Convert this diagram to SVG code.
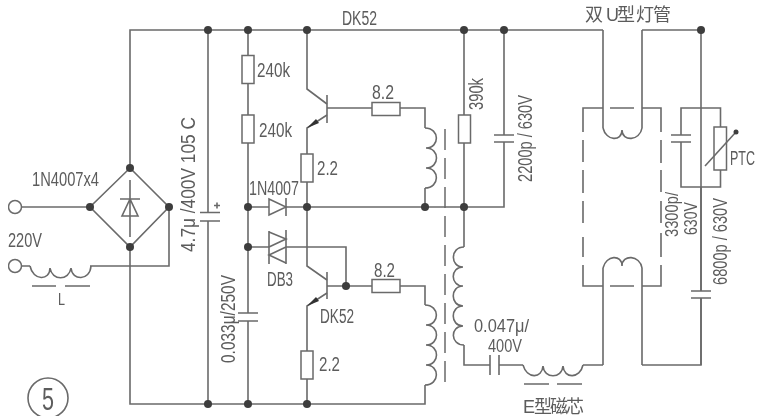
<svg xmlns="http://www.w3.org/2000/svg" width="769" height="416" viewBox="0 0 769 416">
<defs>
<style>
.w{fill:none;stroke:#6a6a6a;stroke-width:1.6}
.b{fill:#fff;stroke:#6a6a6a;stroke-width:1.5}
.d{fill:none;stroke:#6a6a6a;stroke-width:1.5;stroke-dasharray:21 8}
.j{fill:#3c3c3c}
text{font-family:"Liberation Sans","Noto Sans CJK SC",sans-serif;font-size:19.5px;fill:#5c5c5c}
.cjk{font-size:18px}
.sm{font-size:17.5px}
</style>
<filter id="soft" x="0" y="0" width="100%" height="100%"><feGaussianBlur stdDeviation="0.45"/></filter>
<g id="res"><rect class="b" x="-6" y="-14" width="12" height="28"/></g>
<g id="resh"><rect class="b" x="-14" y="-6.5" width="28" height="13"/></g>
</defs>
<rect width="769" height="416" fill="#fff"/>
<g filter="url(#soft)">
<g id="connectors">
<path class="w" d="M130 168V30H603"/>
<path class="w" d="M642 30H701"/>
<path class="w" d="M130 247V404H425V385"/>
<path class="w" d="M21 207H90"/>
<path class="w" d="M21 266H30M90 266H169V207"/>
<path class="w" d="M208 30V404"/>
<path class="w" d="M248 30V404"/>
<path class="w" d="M248 207H504V30"/>
<path class="w" d="M307 30V89L327 104"/>
<path class="w" d="M327 115L307 128V207"/>
<path class="w" d="M327 108H425V128M425 188V207"/>
<path class="w" d="M307 207V266L327 280"/>
<path class="w" d="M327 293L307 306V404"/>
<path class="w" d="M248 247H346V286"/>
<path class="w" d="M327 286H425V305"/>
<path class="w" d="M464 30V247M464 345V365H490M499 365H523M583 365H603"/>
<path class="w" d="M603 30V128M642 30V128"/>
<path class="w" d="M603 365V268M642 365V268"/>
<path class="w" d="M642 365H701V108"/>
</g>
<g id="bridge">
<path class="w" d="M130 168L169 207L130 247L90 207Z"/>
<path class="w" d="M130 180V237M120 199H140M130 199L122 216H138Z"/>
</g>
<g id="terminals">
<circle class="b" cx="15" cy="207" r="6.5"/>
<circle class="b" cx="15" cy="266" r="6.5"/>
</g>
<g id="L">
<path class="w" d="M30 266C33 281 50 281 50 268C52 281 69 281 71 268C72 281 90 281 91 266"/>
<path class="w" d="M32 286H56M65 286H90"/>
</g>
<g id="C1">
<path fill="#fff" d="M200 213h20v8h-20z"/>
<path class="w" d="M200 212.500H220M200 221H220"/>
<path class="w" d="M214 205.500H220M217 202.500V208.500"/>
</g>
<g id="R240k1"><use href="#res" x="248" y="69.500"/></g>
<g id="R240k2"><use href="#res" x="248" y="129"/></g>
<g id="D1">
<path class="b" d="M269 199L286 207L269 215Z"/>
<path class="w" d="M286 198V216"/>
</g>
<g id="DB3">
<path fill="#fff" d="M269 231H286V264H269Z"/>
<path class="w" d="M269 231V264M286 230V264"/>
<path class="w" d="M269 232L286 239L269 247M286 247L269 255L286 263"/>
</g>
<g id="Q1">
<path class="w" d="M327 95V123"/>
<path fill="#333" d="M307 128L316 119L319 123Z"/>
</g>
<g id="Q2">
<path class="w" d="M327 272V299"/>
<path fill="#333" d="M307 306L316 297L319 301Z"/>
</g>
<g id="R22a"><use href="#res" x="307" y="168"/></g>
<g id="R22b"><use href="#res" x="307" y="365"/></g>
<g id="R82a"><use href="#resh" x="386" y="109"/></g>
<g id="R82b"><use href="#resh" x="386" y="286"/></g>
<g id="T1">
<path class="w" d="M425 128C440 128 440 148 426 148C440 148 440 168 426 168C440 168 440 188 425 188"/>
<path class="w" d="M425 305C440 305 440 325 426 325C440 325 440 345 426 345C440 345 440 365 426 365C440 365 440 385 425 385"/>
</g>
<g id="core"><path class="d" d="M445 129V385"/></g>
<g id="T2">
<path class="w" d="M464 247C450 247 450 267 463 267C450 267 450 286 463 286C450 286 450 306 463 306C450 306 450 326 463 326C450 326 450 345 464 345"/>
</g>
<g id="R390k"><use href="#res" x="464.500" y="129"/></g>
<g id="C2200">
<path fill="#fff" d="M496 135h16v7h-16z"/>
<path class="w" d="M494 135H514M494 142H514"/>
</g>
<g id="C033">
<path fill="#fff" d="M240 313h16v8h-16z"/>
<path class="w" d="M238 313H258M238 321H258"/>
</g>
<g id="C047">
<path class="w" d="M490 355V375M499 355V375"/>
</g>
<g id="Ecore">
<path class="w" d="M523 365C527 379 542 379 543 366C544 379 562 379 563 366C564 379 580 379 583 365"/>
<path class="w" d="M524 384H549M557 384H582"/>
</g>
<g id="lamp">
<path class="w" d="M603 128C606 141 622 142 622 130C622 142 640 141 642 128"/>
<path class="w" d="M603 268C606 255 622 254 622 266C622 254 640 255 642 268"/>
<path class="w" d="M583 132V108H603M610 108H634M642 108H661V132M583 140V162M583 170V193M583 201V223M583 237V257M583 265V286H603M610 286H634M642 286H661V265M661 257V233M661 223V201M661 192V170M661 163V140"/>
</g>
<g id="PTCnet">
<path class="w" d="M681 108H720.500V187H681ZM701 30V108M701 187V291M701 298V365"/>
<rect class="b" x="714" y="127" width="12.500" height="43"/>
<path class="w" d="M705 166L736 132"/>
<circle class="j" cx="736" cy="132" r="2.500"/>
<path fill="#fff" d="M673 135h16v7h-16z"/>
<path class="w" d="M671 135H691M671 142H691"/>
</g>
<g id="C6800">
<path fill="#fff" d="M693 291h16v7h-16z"/>
<path class="w" d="M691 291H711M691 298H711"/>
</g>
<g id="junctions" class="j">
<circle cx="130" cy="168" r="4"/><circle cx="90" cy="207" r="4"/><circle cx="169" cy="207" r="4"/><circle cx="130" cy="247" r="4"/>
<circle cx="208" cy="30" r="4"/><circle cx="248" cy="30" r="4"/><circle cx="307" cy="30" r="4"/><circle cx="464" cy="30" r="4"/><circle cx="504" cy="30" r="4"/><circle cx="701" cy="30" r="4"/>
<circle cx="248" cy="207" r="4"/><circle cx="307" cy="207" r="4"/><circle cx="425" cy="207" r="4"/><circle cx="464" cy="207" r="4"/>
<circle cx="248" cy="247" r="4"/><circle cx="346" cy="286" r="4"/>
<circle cx="208" cy="404" r="4"/><circle cx="248" cy="404" r="4"/><circle cx="307" cy="404" r="4"/>
</g>
<g id="labels">
<circle class="w" cx="48" cy="398" r="20"/>
<text x="42" y="410" textLength="12" lengthAdjust="spacingAndGlyphs" style="font-size:31px">5</text>
<text x="32" y="186" textLength="67" lengthAdjust="spacingAndGlyphs">1N4007x4</text>
<text x="8" y="247" textLength="34" lengthAdjust="spacingAndGlyphs">220V</text>
<text x="58" y="305" textLength="7" lengthAdjust="spacingAndGlyphs" style="font-size:17px">L</text>
<text transform="translate(195 252) rotate(-90)" textLength="135" lengthAdjust="spacingAndGlyphs">4.7μ /400V  105  C</text>
<text transform="translate(235 363) rotate(-90)" textLength="88" lengthAdjust="spacingAndGlyphs">0.033μ/250V</text>
<text x="342" y="25" textLength="35" lengthAdjust="spacingAndGlyphs">DK52</text>
<text x="257" y="77" textLength="33" lengthAdjust="spacingAndGlyphs">240k</text>
<text x="259" y="137" textLength="33" lengthAdjust="spacingAndGlyphs">240k</text>
<text x="317" y="175" textLength="21" lengthAdjust="spacingAndGlyphs">2.2</text>
<text x="372" y="99" textLength="22" lengthAdjust="spacingAndGlyphs">8.2</text>
<text x="249" y="195" textLength="50" lengthAdjust="spacingAndGlyphs">1N4007</text>
<text x="267" y="286" textLength="26" lengthAdjust="spacingAndGlyphs">DB3</text>
<text x="320" y="323" textLength="34" lengthAdjust="spacingAndGlyphs">DK52</text>
<text x="374" y="277" textLength="21" lengthAdjust="spacingAndGlyphs">8.2</text>
<text x="319" y="371" textLength="21" lengthAdjust="spacingAndGlyphs">2.2</text>
<text transform="translate(483 110) rotate(-90)" textLength="32" lengthAdjust="spacingAndGlyphs">390k</text>
<text transform="translate(532 182) rotate(-90)" textLength="87" lengthAdjust="spacingAndGlyphs">2200p / 630V</text>
<text class="sm" x="474" y="332" textLength="55" lengthAdjust="spacingAndGlyphs">0.047μ/</text>
<text class="sm" x="488" y="352" textLength="34" lengthAdjust="spacingAndGlyphs">400V</text>
<text class="cjk" x="523 534 550 566" y="413">E型磁芯</text>
<text class="cjk" x="585 606 617 636 653" y="21">双U型灯管</text>
<text x="730" y="165" textLength="25" lengthAdjust="spacingAndGlyphs">PTC</text>
<text class="sm" transform="translate(678 237) rotate(-90)" textLength="45" lengthAdjust="spacingAndGlyphs">3300p/</text>
<text class="sm" transform="translate(697 235) rotate(-90)" textLength="33" lengthAdjust="spacingAndGlyphs">630V</text>
<text transform="translate(727 285) rotate(-90)" textLength="87" lengthAdjust="spacingAndGlyphs">6800p / 630V</text>
</g>
</g>
</svg>
